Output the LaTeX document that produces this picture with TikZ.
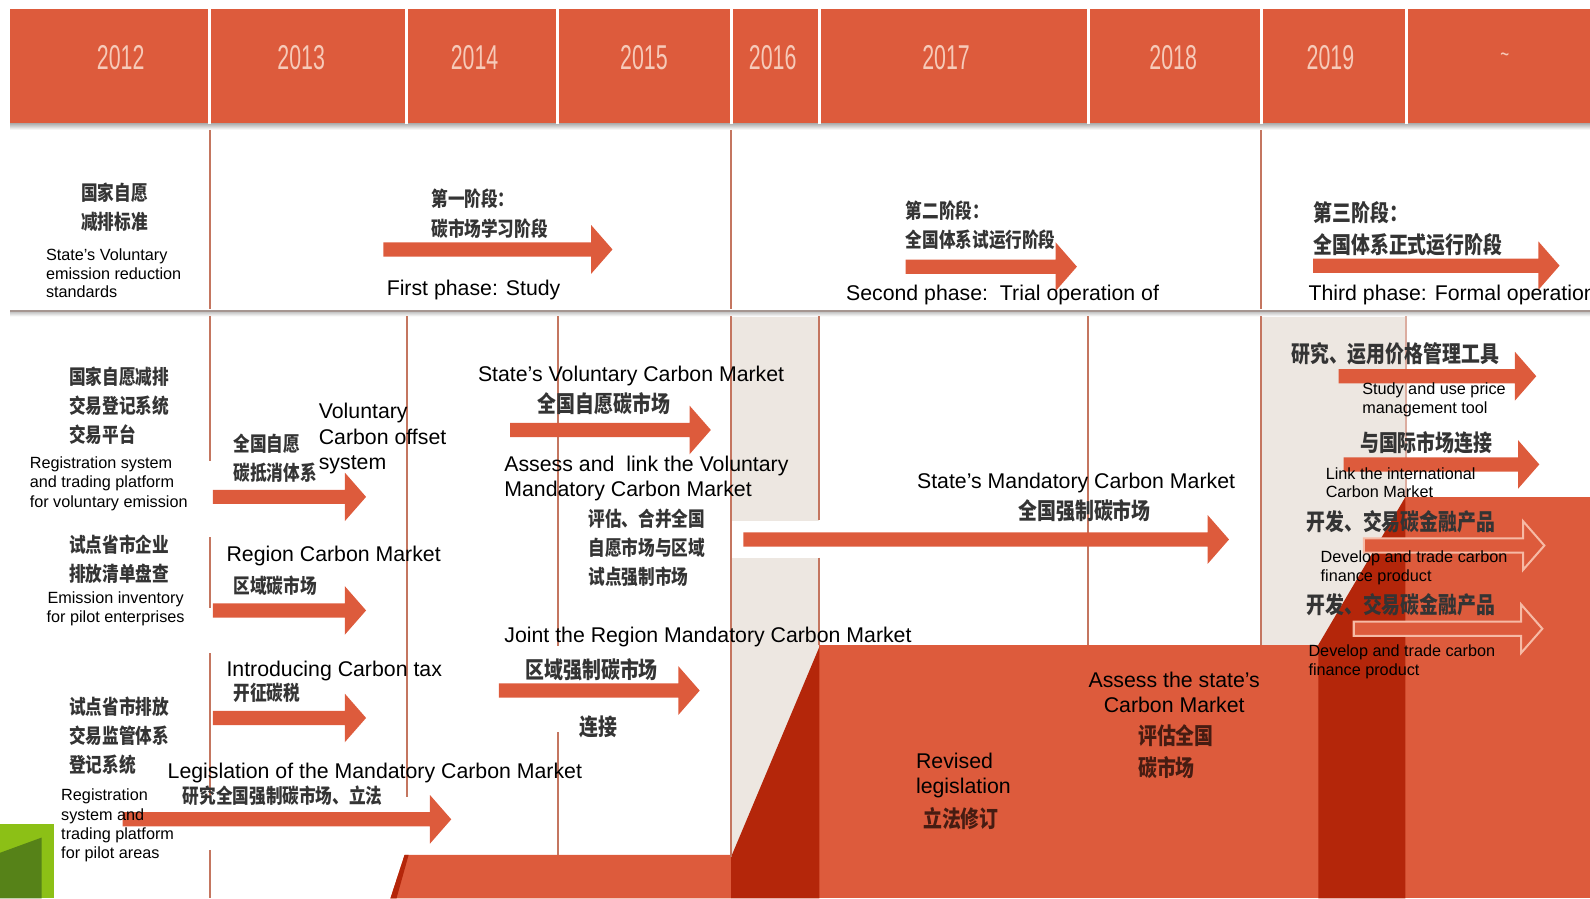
\documentclass[tikz,border=0pt]{standalone}
\usepackage{fontspec}
\setmainfont{Liberation Sans}
\newfontfamily\cjk[FakeStretch=0.82]{Noto Sans CJK SC}
\newfontfamily\yearfont[FakeStretch=0.62]{Liberation Sans}
\usetikzlibrary{calc}
\definecolor{hdr}{RGB}{221,91,60}
\definecolor{dkred}{RGB}{180,38,10}
\definecolor{beige}{RGB}{237,231,225}
\definecolor{gridln}{RGB}{196,118,96}
\definecolor{rowln}{RGB}{165,150,145}
\definecolor{yeartxt}{RGB}{246,202,185}
\definecolor{cjktxt}{RGB}{52,52,52}
\definecolor{cjkdark}{RGB}{70,28,18}
\definecolor{outl}{RGB}{246,186,165}
\definecolor{greenlt}{RGB}{140,192,22}
\definecolor{greendk}{RGB}{86,130,24}
\tikzset{
 en/.style={anchor=base west, inner sep=0pt, font=\fontsize{10.5}{12.75}\selectfont, align=left},
 ensm/.style={anchor=base west, inner sep=0pt, font=\fontsize{8}{9.5}\selectfont, align=left},
 zh/.style={anchor=base west, inner sep=0pt, font=\cjk\bfseries\fontsize{10}{14.25}\selectfont, text=cjktxt, align=left},
 zhL/.style={anchor=base west, inner sep=0pt, font=\cjk\bfseries\fontsize{11.35}{16}\selectfont, text=cjktxt, align=left},
 yearlbl/.style={inner sep=0pt, font=\yearfont\fontsize{17}{17}\selectfont, text=yeartxt},
 gline/.style={draw=gridln, line width=1pt},
 hline/.style={draw=white, line width=1.5pt},
 solidarrow/.style={fill=hdr},
 openarrow/.style={fill=hdr, draw=outl, line width=1pt},
}
\newcommand\blockarrow[3][solidarrow]{%
 \path[#1] ($(#2)+(0,-7)$) -- ($(#3)+(-21,-7)$) -- ($(#3)+(-21,-24)$) -- (#3)
  -- ($(#3)+(-21,24)$) -- ($(#3)+(-21,7)$) -- ($(#2)+(0,7)$) -- cycle;}
\begin{document}
\begin{tikzpicture}[x=0.5pt,y=-0.5pt]
\useasboundingbox (0,0) rectangle (1568,886);
% ---------- backgrounds
\fill[hdr] (10,9) rectangle (1568,122);
\shade[top color=black!30, bottom color=white] (10,122) rectangle (1568,128);
\fill[beige] (721,309) rectangle (808,886);
\fill[beige] (1244,309) rectangle (1387,636);
\fill[white] (721,514) rectangle (808,550);
% red regions
\fill[hdr] (808,636) rectangle (1568,886);
\fill[hdr] (1386,490) rectangle (1568,637);
\fill[hdr] (399,843) -- (721,843) -- (721,886) -- (385,886) -- cycle;
\fill[dkred] (721,886) -- (721,845) -- (808,638) -- (808,886) -- cycle;
\fill[dkred] (1300,886) -- (1300,636) -- (1386,490) -- (1386,886) -- cycle;
\fill[dkred] (385,886) -- (399,843) -- (403,843) -- (391,886) -- cycle;
% row divider
\draw[rowln, line width=1.5pt] (10,307) -- (1568,307);
\shade[top color=black!18, bottom color=white] (10,308.5) rectangle (1568,312);
% header dividers
\foreach \x in {207,401,550,721,808,1073,1244,1387}
  \draw[hline] (\x,9) -- (\x,122);
% grid lines row 1
\foreach \x in {207,721,1244}
  \draw[gline] (\x,128) -- (\x,305);
% grid lines row 2
\draw[gline] (207,312) -- (207,455);
\draw[gline] (207,530) -- (207,600);
\draw[gline] (207,644) -- (207,786);
\draw[gline] (207,838) -- (207,886);
\draw[gline] (401,312) -- (401,786);
\draw[gline] (550,312) -- (550,637);
\draw[gline] (550,722) -- (550,843);
\draw[gline] (721,312) -- (721,845);
\draw[gline] (808,312) -- (808,513);
\draw[gline] (808,550) -- (808,636);
\draw[gline] (1073,312) -- (1073,636);
\draw[gline] (1244,312) -- (1244,636);
\draw[gline, draw=gridln!60] (1387,312) -- (1387,490);
% green block
\fill[greenlt] (0,813) rectangle (53,886);
\fill[greendk] (0,841) -- (41,826) -- (41,886) -- (0,886) -- cycle;
% ---------- years
\node[yearlbl] (y2012) at (119,57) {2012};
\node[yearlbl] (y2013) at (297,57) {2013};
\node[yearlbl] (y2014) at (468,57) {2014};
\node[yearlbl] (y2015) at (635,57) {2015};
\node[yearlbl] (y2016) at (762,57) {2016};
\node[yearlbl] (y2017) at (933,57) {2017};
\node[yearlbl] (y2018) at (1157,57) {2018};
\node[yearlbl] (y2019) at (1312,57) {2019};
\node[yearlbl, font=\yearfont\fontsize{12}{12}\selectfont] (ytilde) at (1484,57) {\textasciitilde};
% ---------- arrow end points
\coordinate (p1s) at (378,246);  \coordinate (p1e) at (604,246);
\coordinate (p2s) at (893,263);  \coordinate (p2e) at (1062,263);
\coordinate (p3s) at (1295,262); \coordinate (p3e) at (1538,262);
\coordinate (l1s) at (210,490);  \coordinate (l1e) at (361,490);
\coordinate (l2s) at (210,602);  \coordinate (l2e) at (361,602);
\coordinate (l3s) at (210,708);  \coordinate (l3e) at (361,708);
\coordinate (l4s) at (121,808);  \coordinate (l4e) at (445,808);
\coordinate (m1s) at (503,424);  \coordinate (m1e) at (701,424);
\coordinate (m2s) at (492,681);  \coordinate (m2e) at (690,681);
\coordinate (ns) at (733,532);   \coordinate (ne) at (1212,532);
\coordinate (r1s) at (1320,371); \coordinate (r1e) at (1515,371);
\coordinate (r2s) at (1325,458); \coordinate (r2e) at (1518,458);
\coordinate (r3s) at (1345,538); \coordinate (r3e) at (1523,538);
\coordinate (r4s) at (1335,620); \coordinate (r4e) at (1521,620);
\blockarrow{p1s}{p1e}
\blockarrow{p2s}{p2e}
\blockarrow{p3s}{p3e}
\blockarrow{l1s}{l1e}
\blockarrow{l2s}{l2e}
\blockarrow{l3s}{l3e}
\blockarrow{l4s}{l4e}
\blockarrow{m1s}{m1e}
\blockarrow{m2s}{m2e}
\blockarrow{ns}{ne}
\blockarrow{r1s}{r1e}
\blockarrow{r2s}{r2e}
\blockarrow[openarrow]{r3s}{r3e}
\blockarrow[openarrow]{r4s}{r4e}
% ---------- row 1 texts (multi-line nodes: base = last line)
\node[zh, anchor=base, align=center, font=\cjk\bfseries\fontsize{10}{14}\selectfont] (zstd) at (113,226) {国家自愿\\减排标准};
\node[ensm, font=\fontsize{8}{9.25}\selectfont] (estd) at (45,293.7) {State’s Voluntary\\emission reduction\\standards};
\node[zh, font=\cjk\bfseries\fontsize{10}{14.5}\selectfont] (zp1) at (425,233) {第一阶段：\\碳市场学习阶段};
\node[en] (ep1) at (381,291.5) {First phase: Study};
\node[zh, font=\cjk\bfseries\fontsize{10}{14.5}\selectfont] (zp2) at (893,244) {第二阶段：\\全国体系试运行阶段};
\node[en] (ep2) at (834,296.5) {Second phase:\ \ Trial operation of};
\node[zhL] (zp3) at (1295,250) {第三阶段：\\全国体系正式运行阶段};
\node[en] (ep3) at (1290,296.5) {Third phase: Formal operation};
% ---------- row 2 left column
\node[zh] (zreg) at (68,436) {国家自愿减排\\交易登记系统\\交易平台};
\node[ensm, font=\fontsize{8}{9.75}\selectfont] (ereg) at (29,500.7) {Registration system\\and trading platform\\for voluntary emission};
\node[zh] (zinv) at (68,573.5) {试点省市企业\\排放清单盘查};
\node[ensm, anchor=base, align=center] (einv) at (114,613.7) {Emission inventory\\for pilot enterprises};
\node[zh] (zpil) at (68,762) {试点省市排放\\交易监管体系\\登记系统};
\node[ensm] (epil) at (60,846.7) {Registration\\system and\\trading platform\\for pilot areas};
% ---------- 2013 column
\node[zh] (zoff) at (230,473.5) {全国自愿\\碳抵消体系};
\node[en] (eoff) at (314,463.5) {Voluntary\\Carbon offset\\system};
\node[en] (erg) at (223,553.5) {Region Carbon Market};
\node[zh] (zrg) at (230,585) {区域碳市场};
\node[en] (etax) at (223,667.5) {Introducing Carbon tax};
\node[zh] (ztax) at (230,691) {开征碳税};
\node[en] (eleg) at (165,767.5) {Legislation of the Mandatory Carbon Market};
\node[zh] (zleg) at (180,792) {研究全国强制碳市场、立法};
% ---------- 2014-2015
\node[en] (evcm) at (471,376.5) {State’s Voluntary Carbon Market};
\node[zhL] (zvcm) at (530,407) {全国自愿碳市场};
\node[en] (elink) at (497,490) {Assess and\ \ link the Voluntary\\Mandatory Carbon Market};
\node[zh] (zlink) at (580,576) {评估、合并全国\\自愿市场与区域\\试点强制市场};
\node[en] (ejoin) at (497,633.5) {Joint the Region Mandatory Carbon Market};
\node[zhL] (zjoin) at (518,669) {区域强制碳市场};
\node[zhL] (zconn) at (571,725) {连接};
% ---------- 2016-2018
\node[en] (emcm) at (904,481.5) {State’s Mandatory Carbon Market};
\node[zhL] (zmcm) at (1004,512) {全国强制碳市场};
\node[en] (erev) at (903,783) {Revised\\legislation};
\node[zhL, text=cjkdark] (zrev) at (910,816) {立法修订};
\node[en, anchor=base, align=center] (eass) at (1158,703) {Assess the state’s\\Carbon Market};
\node[zhL, text=cjkdark] (zass) at (1122,766) {评估全国\\碳市场};
% ---------- 2019 onwards
\node[zhL] (zprice) at (1273,357) {研究、运用价格管理工具};
\node[ensm] (eprice) at (1343,407.7) {Study and use price\\management tool};
\node[zhL] (zintl) at (1341,445) {与国际市场连接};
\node[ensm, font=\fontsize{8}{9}\selectfont] (eintl) at (1307,490.7) {Link the international\\Carbon Market};
\node[zhL] (zfin1) at (1288,523) {开发、交易碳金融产品};
\node[ensm] (efin1) at (1302,573.7) {Develop and trade carbon\\finance product};
\node[zhL] (zfin2) at (1288,605) {开发、交易碳金融产品};
\node[ensm, font=\fontsize{8}{9}\selectfont] (efin2) at (1290,665.7) {Develop and trade carbon\\finance product};
\end{tikzpicture}
\end{document}
